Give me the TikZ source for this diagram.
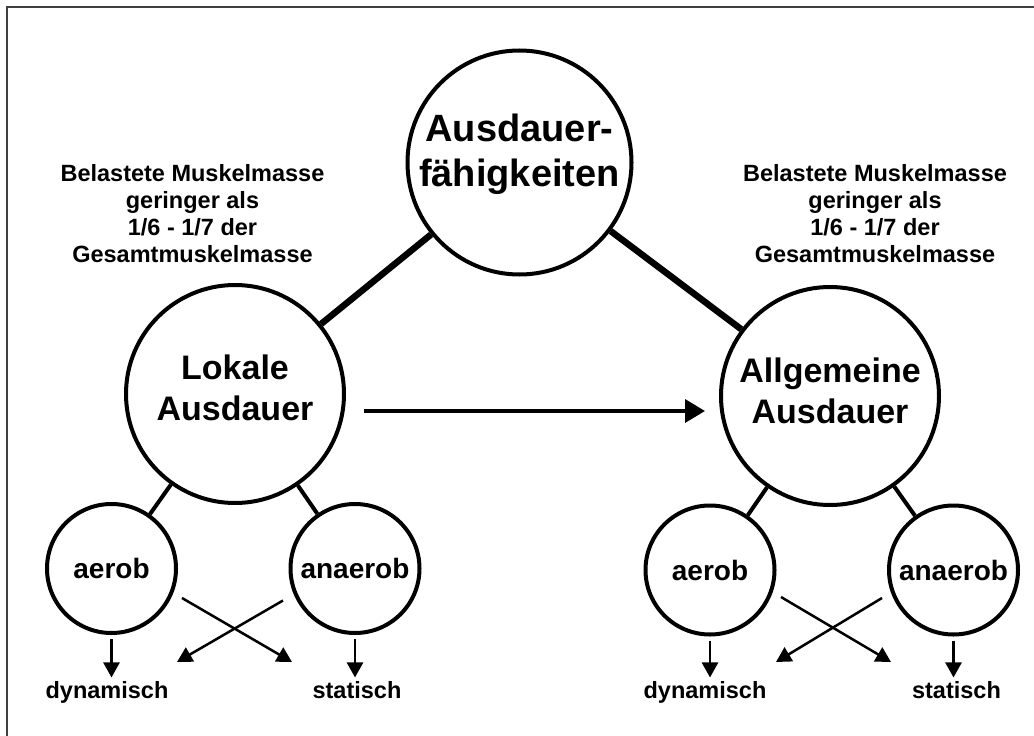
\documentclass[tikz,border=0pt]{standalone}
\usepackage{fontspec}
\setmainfont{Liberation Sans}
\usetikzlibrary{arrows.meta,calc}

\tikzset{
  ring/.style={circle, draw, line width=4pt, inner sep=0pt},
  bigring/.style={ring, minimum size=224pt},
  midring/.style={ring, minimum size=218pt},
  smallring/.style={ring, minimum size=129pt},
  thickline/.style={line width=6.5pt},
  midline/.style={line width=4pt},
  mainarrow/.style={line width=3.5pt, -{Triangle[length=20pt,width=23pt]}},
  subarrow/.style={line width=2.5pt, -{Triangle[length=15pt,width=16pt]}},
  caption/.style={align=center, font=\bfseries\fontsize{23.5}{27}\selectfont},
  leaf/.style={anchor=base, inner sep=3.3pt, font=\bfseries\fontsize{23.5}{27}\selectfont},
  bigtext/.style={align=center, font=\bfseries\fontsize{38}{45}\selectfont},
  midtext/.style={align=center, font=\bfseries\fontsize{34}{40.5}\selectfont},
  smalltext/.style={font=\bfseries\fontsize{28}{32}\selectfont},
  frame/.style={line width=1.6pt, draw=black!75}
}

\begin{document}
\begin{tikzpicture}[x=1pt,y=-1pt]
  \useasboundingbox (0,0) rectangle (1034,736);
  \fill[white] (0,0) rectangle (1034,736);
  % frame along the top and left edges
  \draw[frame] (1034,7) -| (7,736);

  % circles
  \node[bigring] (top) at (519.5,162.5) {};
  \node[midring] (lok) at (235,394) {};
  \node[midring] (all) at (830,396) {};
  \node[smallring] (la) at (111.5,568.5) {};
  \node[smallring] (ln) at (355,568.5) {};
  \node[smallring] (ra) at (710,570) {};
  \node[smallring] (rn) at (953.5,570) {};

  % circle labels
  \node[bigtext, yshift=8pt] (topt) at (top) {Ausdauer-\\fähigkeiten};
  \node[midtext, yshift=6pt] (lokt) at (lok) {Lokale\\Ausdauer};
  \node[midtext, yshift=5pt] (allt) at (all) {Allgemeine\\Ausdauer};
  \node[smalltext] (lat) at (la) {aerob};
  \node[smalltext] (lnt) at (ln) {anaerob};
  \node[smalltext] (rat) at (ra) {aerob};
  \node[smalltext] (rnt) at (rn) {anaerob};

  % notes above the two branches
  \node[caption] (capl) at (192.5,214) {Belastete Muskelmasse\\geringer als\\1/6 - 1/7 der\\Gesamtmuskelmasse};
  \node[caption] (capr) at (875,214) {Belastete Muskelmasse\\geringer als\\1/6 - 1/7 der\\Gesamtmuskelmasse};

  % bottom labels
  \node[leaf] (ld) at (107,698) {dynamisch};
  \node[leaf] (ls) at (357,698) {statisch};
  \node[leaf] (rd) at (705,698) {dynamisch};
  \node[leaf] (rs) at (956.5,698) {statisch};

  % tree connections
  \draw[thickline] (top) -- (lok);
  \draw[thickline] (top) -- (all);
  \draw[midline] (lok) -- (la);
  \draw[midline] (lok) -- (ln);
  \draw[midline] (all) -- (ra);
  \draw[midline] (all) -- (rn);

  % transfer arrow
  \draw[mainarrow] ($(lok.east)+(18,17)$) -- ($(all.west)+(-14,15)$);

  % crossed arrows
  \draw[subarrow] ($(la)+(70.5,29.5)$) -- ($(ln)+(-63,93.5)$);
  \draw[subarrow] ($(ln)+(-72,32)$) -- ($(la)+(65.5,93.5)$);
  \draw[subarrow] ($(ra)+(71,27)$) -- ($(rn)+(-62.5,92)$);
  \draw[subarrow] ($(rn)+(-71.5,28)$) -- ($(ra)+(66,92)$);

  % straight down arrows
  \draw[subarrow] ($(la.south)+(0,4)$) -- (la.south |- ld.north);
  \draw[subarrow] ($(ln.south)+(0,4)$) -- (ln.south |- ls.north);
  \draw[subarrow] ($(ra.south)+(0,4)$) -- (ra.south |- rd.north);
  \draw[subarrow] ($(rn.south)+(0,4)$) -- (rn.south |- rs.north);
\end{tikzpicture}
\end{document}
